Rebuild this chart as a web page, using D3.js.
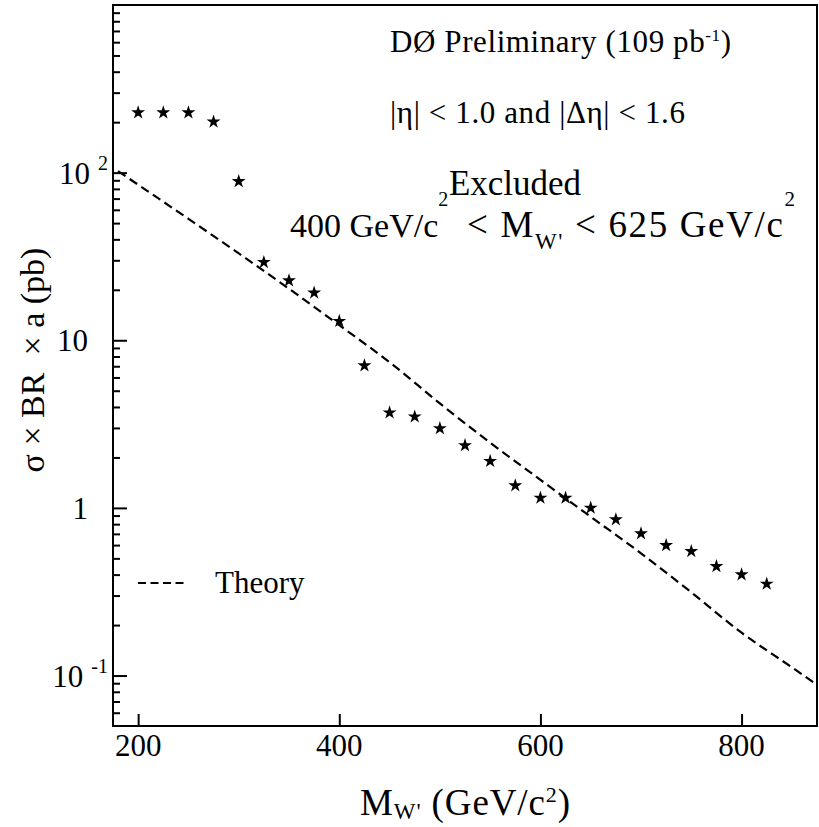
<!DOCTYPE html>
<html>
<head>
<meta charset="utf-8">
<script src="https://cdn.jsdelivr.net/npm/d3@7"></script>
<style>
  body { margin: 0; background: #fff; }
  text { font-family: "Liberation Serif", "Times New Roman", serif; fill: #000; }
</style>
</head>
<body>
<div id="chart"></div>
<script>
// observed limit (stars), GeV/c^2 and pb
const starMass = [200, 225, 250, 275, 300, 325, 350, 375, 400, 425, 450, 475, 500,
                  525, 550, 575, 600, 625, 650, 675, 700, 725, 750, 775, 800, 825];
const starLimit = [228, 228, 228, 201, 88.7, 29.2, 22.7, 19.2, 13.0, 7.06, 3.7, 3.5, 2.98,
                   2.36, 1.90, 1.36, 1.147, 1.147, 1.0, 0.852, 0.703, 0.598, 0.551, 0.448, 0.40, 0.352];

// theory curve (dashed)
const theoryMass = [180, 200, 250, 300, 350, 400, 450, 500, 550, 600, 650, 700, 750, 800, 850, 875];
const theoryXsec = [102, 84.7, 53, 33, 20.3, 12.3, 7.4, 4.2, 2.45, 1.47, 0.886, 0.536, 0.3135, 0.180, 0.112, 0.088];

// tick labels
const xTicks = [200, 400, 600, 800];
const yMajor = [0.1, 1, 10, 100];
const yTickBase = ["10", "1", "10", "10"];
const yTickExp = ["-1", "", "", "2"];

const W = 819, H = 827;
const frame = { left: 113, top: 5, right: 817, bottom: 726 };

const svg = d3.select("#chart")
    .append("svg")
    .attr("width", W)
    .attr("height", H);

const x = d3.scaleLinear()
    .domain([175, 875])
    .range([frame.left, frame.right]);

const y = d3.scaleLog()
    .domain([0.05, 1000])
    .range([frame.bottom, frame.top]);

svg.append("clipPath").attr("id", "clip")
    .append("rect")
    .attr("x", frame.left).attr("y", frame.top)
    .attr("width", frame.right - frame.left)
    .attr("height", frame.bottom - frame.top);

// minor ticks 2..9 in every decade
const yMinor = [];
[0.01, 0.1, 1, 10, 100].forEach(d => {
    for (let k = 2; k <= 9; k++) {
        const v = k * d;
        if (v > 0.05 && v < 1000) yMinor.push(v);
    }
});

// y axis ticks, pointing inside
svg.append("g")
    .attr("transform", `translate(${frame.left},0)`)
    .call(d3.axisLeft(y).tickValues(yMinor).tickSize(-7).tickFormat(""))
    .call(g => g.select(".domain").remove())
    .selectAll("line").attr("stroke", "#000").attr("stroke-width", 2);

svg.append("g")
    .attr("transform", `translate(${frame.left},0)`)
    .call(d3.axisLeft(y).tickValues(yMajor).tickSize(-14).tickFormat(""))
    .call(g => g.select(".domain").remove())
    .selectAll("line").attr("stroke", "#000").attr("stroke-width", 2);

// x axis ticks
svg.append("g")
    .attr("transform", `translate(0,${frame.bottom})`)
    .call(d3.axisBottom(x).tickValues(xTicks).tickSize(-12).tickFormat(""))
    .call(g => g.select(".domain").remove())
    .selectAll("line").attr("stroke", "#000").attr("stroke-width", 2);

// x tick labels
svg.append("g")
    .selectAll("text")
    .data(xTicks)
    .join("text")
    .attr("x", d => x(d))
    .attr("y", 756)
    .attr("text-anchor", "middle")
    .attr("font-size", 31)
    .text(d => d);

// y tick labels
yMajor.forEach((v, i) => {
    const hasExp = yTickExp[i] !== "";
    const t = svg.append("text")
        .attr("x", hasExp ? 108 : 88)
        .attr("y", y(v) + 11)
        .attr("text-anchor", "end")
        .attr("font-size", 31);
    t.append("tspan").text(yTickBase[i]);
    if (hasExp) t.append("tspan").attr("dx", 8).attr("dy", -14).attr("font-size", 20).text(yTickExp[i]);
});

// frame
svg.append("rect")
    .attr("x", frame.left).attr("y", frame.top)
    .attr("width", frame.right - frame.left)
    .attr("height", frame.bottom - frame.top)
    .attr("fill", "none")
    .attr("stroke", "#000")
    .attr("stroke-width", 2);

// theory line
const line = d3.line()
    .x((d, i) => x(theoryMass[i]))
    .y(d => y(d))
    .curve(d3.curveMonotoneX);

svg.append("path")
    .datum(theoryXsec)
    .attr("clip-path", "url(#clip)")
    .attr("d", line)
    .attr("fill", "none")
    .attr("stroke", "#000")
    .attr("stroke-width", 2.2)
    .attr("stroke-dasharray", "9,5");

// stars
svg.append("g")
    .selectAll("path")
    .data(starLimit)
    .join("path")
    .attr("transform", (d, i) => `translate(${x(starMass[i])},${y(d)})`)
    .attr("d", d3.symbol(d3.symbolStar).size(60))
    .attr("fill", "#000");

// text with super/subscripts: parts = [text, offset from baseline, size]
function rich(px, py, parts, size, anchor, width) {
    const t = svg.append("text")
        .attr("x", px).attr("y", py)
        .attr("font-size", size)
        .attr("text-anchor", anchor || "start")
        .attr("xml:space", "preserve");
    let cur = 0;
    parts.forEach(p => {
        const off = p[1] || 0;
        t.append("tspan")
            .attr("dy", off - cur)
            .attr("font-size", p[2] || size)
            .text(p[0]);
        cur = off;
    });
    if (width) {
        // spread the letters a little so the line spans the same width as the original
        const w = t.node().getBBox().width;
        const n = parts.map(p => p[0]).join("").length - 1;
        t.style("letter-spacing", ((width - w) / n) + "px");
    }
    return t;
}

rich(390, 52, [["DØ Preliminary (109 pb"], ["-1", -11, 17], [")", 0]], 31, "start", 341);
rich(390, 123, [["|η| < 1.0 and |Δη| < 1.6"]], 31, "start", 295);
rich(515, 195, [["Excluded"]], 35, "middle");
rich(290, 237, [["400 GeV/c"], ["2", -31, 20]], 34);
rich(467, 237, [["< M"], ["W'", 12, 23], [" < 625 GeV/c", 0], ["2", -31, 21]], 37, "start", 328);

// legend
svg.append("line")
    .attr("x1", 138).attr("x2", 184)
    .attr("y1", 583).attr("y2", 583)
    .attr("stroke", "#000")
    .attr("stroke-width", 2)
    .attr("stroke-dasharray", "8,4.5");
rich(215, 593, [["Theory"]], 31);

// axis titles
rich(360, 815, [["M"], ["W'", 4, 23], [" (GeV/c", 0], ["2", -13, 22], [")", 0]], 37, "start", 210);

svg.append("text")
    .attr("transform", "translate(44,360) rotate(-90)")
    .attr("text-anchor", "middle")
    .attr("font-size", 34)
    .attr("xml:space", "preserve")
    .text("σ × BR  × a (pb)");
</script>
</body>
</html>
